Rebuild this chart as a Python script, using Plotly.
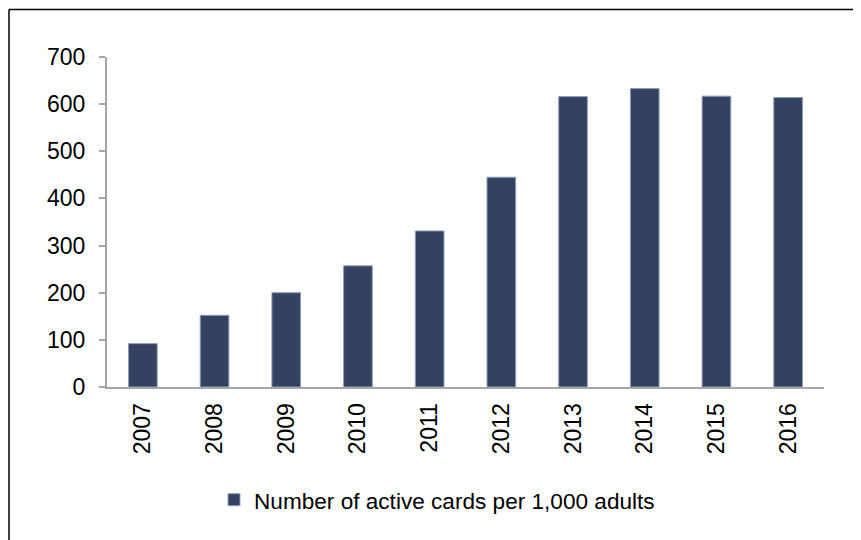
import plotly.graph_objects as go

years = ["2007", "2008", "2009", "2010", "2011", "2012", "2013", "2014", "2015", "2016"]
cards_per_1000 = [92, 152, 200, 257, 331, 445, 616, 633, 617, 614]
y_ticks = [0, 100, 200, 300, 400, 500, 600, 700]
series_name = "Number of active cards per 1,000 adults"

FONT = "Liberation Sans, Arial, sans-serif"

fig = go.Figure()
fig.add_trace(go.Bar(
    x=years, y=cards_per_1000, name=series_name,
    marker=dict(color="#344262", line=dict(color="#8F9DBB", width=1)),
    showlegend=True,
))

OFF = 8  # page body margin
W, H = 861 - OFF, 540 - OFF
# plot area in screen pixels
SX0, SX1, SY0, SY1 = 107, 824, 57, 387
L, R, T, B = SX0 - OFF, W - (SX1 - OFF), SY0 - OFF, H - (SY1 - OFF)
pw, ph = W - L - R, H - T - B

def px_to_paper_x(px):
    return (px - OFF - L) / pw

def px_to_paper_y(py):
    return (H - B - (py - OFF)) / ph

fig.update_layout(
    width=W, height=H,
    margin=dict(l=L, r=R, t=T, b=B, pad=0),
    paper_bgcolor="white", plot_bgcolor="white",
    font=dict(family=FONT, size=23, color="#000000"),
    bargap=0.6,
    showlegend=True,
    legend=dict(
        orientation="h",
        x=px_to_paper_x(214), xanchor="left",
        y=px_to_paper_y(500), yanchor="middle",
        font=dict(family=FONT, size=22.6, color="#000000"),
        bgcolor="rgba(0,0,0,0)",
    ),
    xaxis=dict(
        type="category",
        showline=True, linecolor="#A6A6A6", linewidth=2,
        ticks="", tickangle=-90, showgrid=False,
        tickfont=dict(family=FONT, size=23),
        ticklabelstandoff=5,
    ),
    yaxis=dict(
        range=[0, 700], tickvals=y_ticks,
        showline=True, linecolor="#A6A6A6", linewidth=2,
        ticks="outside", ticklen=6, tickcolor="#A6A6A6", tickwidth=2,
        showgrid=False, zeroline=False,
        tickfont=dict(family=FONT, size=23),
        ticklabelstandoff=9,
    ),
    shapes=[
        dict(type="line", xref="paper", yref="paper",
             x0=px_to_paper_x(9), x1=px_to_paper_x(9),
             y0=px_to_paper_y(9.5), y1=px_to_paper_y(545),
             line=dict(color="black", width=1.5)),
        dict(type="line", xref="paper", yref="paper",
             x0=px_to_paper_x(9), x1=px_to_paper_x(870),
             y0=px_to_paper_y(9.5), y1=px_to_paper_y(9.5),
             line=dict(color="black", width=1.5)),
    ],
)

fig.write_html("out.html")
